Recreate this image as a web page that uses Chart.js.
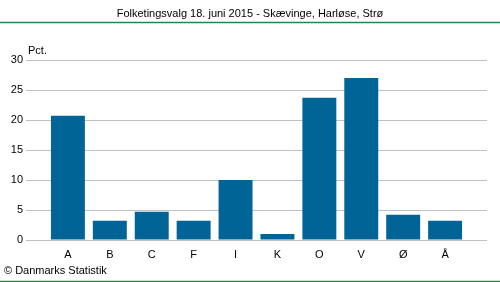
<!DOCTYPE html>
<html>
<head>
<meta charset="utf-8">
<script src="https://cdn.jsdelivr.net/npm/chart.js@4"></script>
<style>
  html,body{margin:0;padding:0;background:#fff;}
  #wrap{position:relative;width:500px;height:282px;}
</style>
</head>
<body>
<div id="wrap"><canvas id="c" width="500" height="282"></canvas></div>
<script>
/* ── data ───────────────────────────────────────────── */
const parties = ['A','B','C','F','I','K','O','V','Ø','Å'];
const pct     = [20.7, 3.2, 4.7, 3.2, 10.0, 1.0, 23.7, 27.0, 4.2, 3.2];
const yTicks  = [0, 5, 10, 15, 20, 25, 30];

const TITLE   = 'Folketingsvalg 18. juni 2015 - Skævinge, Harløse, Strø';
const SOURCE  = '© Danmarks Statistik';
const FONT    = '"Liberation Sans", Arial, sans-serif';

/* ── frame: title, green rules, unit label, source ─── */
const framePlugin = {
  id: 'frame',
  afterDraw(chart){
    const ctx = chart.ctx;
    ctx.save();
    ctx.strokeStyle = '#1b8a4c';
    ctx.lineWidth = 1.5;
    ctx.beginPath();
    ctx.moveTo(0, 22.5); ctx.lineTo(500, 22.5);
    ctx.moveTo(0, 281.5); ctx.lineTo(500, 281.5);
    ctx.stroke();

    ctx.fillStyle = '#000';
    ctx.font = '11px ' + FONT;
    ctx.textAlign = 'center';
    ctx.textBaseline = 'middle';
    ctx.fillText(TITLE, 250, 14);

    ctx.textAlign = 'left';
    ctx.fillText('Pct.', 28, 51);
    ctx.fillText(SOURCE, 4, 271);
    ctx.restore();
  }
};

// linear x so the grid runs past the outer bars (one slot each side)
new Chart(document.getElementById('c'), {
  type: 'bar',
  data: {
    datasets: [{
      data: pct.map((v, i) => ({ x: i, y: v })),
      backgroundColor: '#006496',
      borderWidth: 0,
      categoryPercentage: 0.81,
      barPercentage: 1
    }]
  },
  options: {
    responsive: false,
    animation: false,
    layout: { padding: { top: 60, right: 13, left: 0, bottom: 0 } },
    plugins: { legend: { display: false }, tooltip: { enabled: false } },
    scales: {
      x: {
        type: 'linear',
        offset: false,
        min: -1, max: parties.length,
        afterBuildTicks: s => { s.ticks = parties.map((_, i) => ({ value: i })); },
        grid: { display: false, drawTicks: false },
        border: { display: false },
        ticks: {
          color: '#000', font: { family: FONT, size: 11 }, padding: 8,
          maxRotation: 0, autoSkip: false,
          callback: v => parties[v] ?? ''
        },
        afterFit: s => { s.height = 42; }
      },
      y: {
        min: 0, max: 30,
        afterBuildTicks: s => { s.ticks = yTicks.map(v => ({ value: v })); },
        grid: { color: '#c0bfc8', lineWidth: 1, drawTicks: false },
        border: { display: false },
        ticks: { color: '#000', font: { family: FONT, size: 11 }, padding: 3 },
        afterFit: s => { s.width = 26; }
      }
    }
  },
  plugins: [framePlugin]
});
</script>
</body>
</html>
